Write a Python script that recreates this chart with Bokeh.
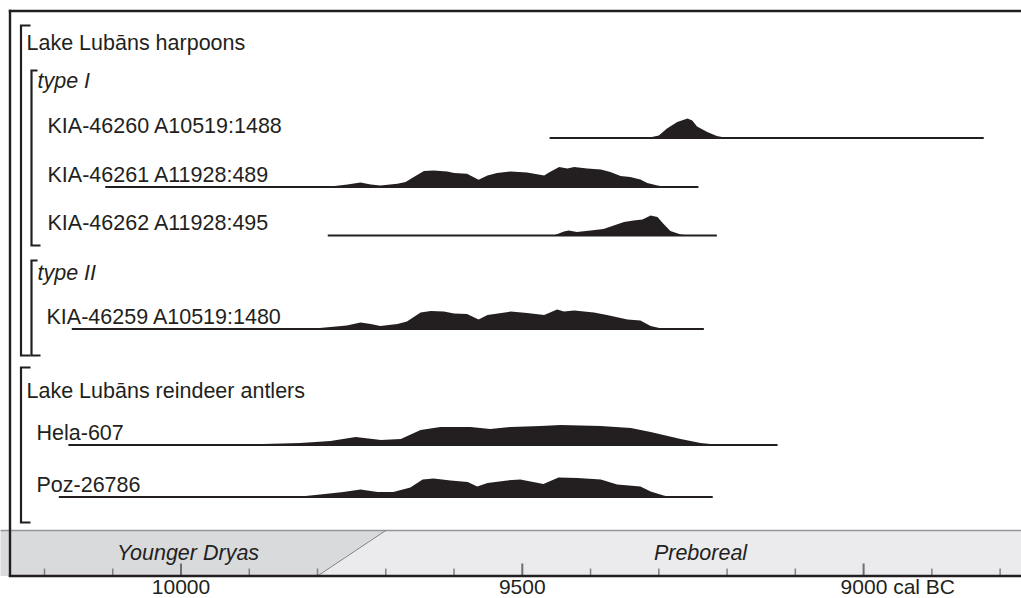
from bokeh.plotting import figure
from bokeh.models import Range1d
from bokeh.core.properties import value
from bokeh.embed import file_html
from bokeh.resources import INLINE

# ---------------- data ----------------
group_titles = ["Lake Lubāns harpoons", "Lake Lubāns reindeer antlers"]
subgroup_titles = ["type I", "type II"]
sample_labels = ["KIA-46260 A10519:1488", "KIA-46261 A11928:489", "KIA-46262 A11928:495",
                 "KIA-46259 A10519:1480", "Hela-607", "Poz-26786"]
# extent of each calibrated range (cal BC)
range_start = [9460, 10111, 9785, 10160, 10165, 10179]
range_end = [8824, 9242, 9215, 9234, 9126, 9221]

kia46260_years = [9317, 9300, 9288, 9273, 9258, 9251, 9244, 9229, 9215, 9200]
kia46260_prob = [0.0, 0.13, 0.47, 0.8, 0.97, 0.88, 0.58, 0.3, 0.1, 0.0]

kia46261_years = [9880, 9781, 9756, 9737, 9722, 9708, 9683, 9671, 9659, 9644, 9630, 9610, 9600, 9581,
                  9564, 9551, 9537, 9517, 9493, 9468, 9461, 9446, 9434, 9424, 9405, 9385, 9371, 9356,
                  9342, 9327, 9317, 9302, 9288]
kia46261_prob = [0.0, 0.02, 0.13, 0.23, 0.13, 0.08, 0.16, 0.25, 0.5, 0.8, 0.83, 0.78, 0.7, 0.66,
                 0.36, 0.58, 0.7, 0.78, 0.72, 0.58, 0.72, 1.0, 0.93, 1.0, 0.92, 0.88, 0.75, 0.55,
                 0.5, 0.38, 0.2, 0.07, 0.0]

kia46262_years = [9454, 9439, 9432, 9420, 9400, 9381, 9366, 9351, 9337, 9324, 9312, 9302, 9293,
                  9283, 9268, 9254]
kia46262_prob = [0.0, 0.2, 0.25, 0.17, 0.25, 0.33, 0.5, 0.67, 0.75, 0.8, 1.0, 0.92, 0.58,
                 0.22, 0.05, 0.0]

kia46259_years = [9880, 9805, 9757, 9737, 9722, 9708, 9683, 9669, 9649, 9634, 9615, 9600, 9581, 9564,
                  9551, 9517, 9493, 9468, 9449, 9439, 9424, 9395, 9376, 9346, 9327, 9312, 9293]
kia46259_prob = [0.0, 0.02, 0.17, 0.33, 0.25, 0.15, 0.25, 0.37, 0.83, 0.9, 0.87, 0.78, 0.75, 0.48,
                 0.7, 0.87, 0.8, 0.7, 0.98, 0.87, 0.92, 0.83, 0.7, 0.48, 0.42, 0.15, 0.0]

hela607_years = [9927, 9825, 9781, 9744, 9707, 9678, 9649, 9620, 9576, 9547, 9517, 9473, 9444,
                 9385, 9341, 9312, 9268, 9239, 9210]
hela607_prob = [0.0, 0.1, 0.2, 0.4, 0.25, 0.3, 0.75, 0.9, 0.9, 0.8, 0.9, 0.95, 1.0,
                0.95, 0.85, 0.65, 0.3, 0.1, 0.0]

poz26786_years = [9880, 9825, 9796, 9762, 9737, 9712, 9689, 9664, 9646, 9630, 9605, 9580, 9566, 9551,
                  9522, 9503, 9469, 9447, 9419, 9385, 9361, 9327, 9312, 9293, 9283]
poz26786_prob = [0.0, 0.02, 0.12, 0.25, 0.37, 0.25, 0.25, 0.48, 0.87, 0.92, 0.82, 0.75, 0.53, 0.7,
                 0.83, 0.87, 0.65, 0.98, 0.95, 0.87, 0.62, 0.53, 0.28, 0.07, 0.0]

sample_years = [kia46260_years, kia46261_years, kia46262_years, kia46259_years, hela607_years, poz26786_years]
sample_prob = [kia46260_prob, kia46261_prob, kia46262_prob, kia46259_prob, hela607_prob, poz26786_prob]

major_ticks = [10000, 9500, 9000]
minor_ticks = [10200, 10100, 9900, 9800, 9700, 9600, 9400, 9300, 9200, 9100, 8900, 8800]
tick_labels = ["10000", "9500", "9000 cal BC"]

period_names = ["Younger Dryas", "Preboreal"]
boundary_bottom = 9800
boundary_top = 9700

# ---------------- layout / style ----------------
INK = "#231f20"
FONT = "Liberation Sans"
FS = "21.5px"
TICK_FS = "21px"
TDY = -8  # text baseline correction (svg)
PX_PER_YEAR = 0.6826
X0_PX, X0_YEAR = 180.5, 10000  # picture px of 10000 cal BC

def yr(px):
    return X0_YEAR - (px - X0_PX) / PX_PER_YEAR

W, H = 1021, 598
OVER = W + 40  # lines run past the right canvas edge
x_range = Range1d(yr(0), yr(W))
y_range = Range1d(H, 0)  # picture-pixel-like vertical units, inverted

p = figure(width=W, height=H, x_range=x_range, y_range=y_range,
           output_backend="svg", toolbar_location=None,
           y_axis_location=None, x_axis_location=None,
           min_border_left=0, min_border_right=0, min_border_top=0, min_border_bottom=0,
           outline_line_color=None)
p.extra_x_ranges = {"px": Range1d(0, W)}
p.grid.visible = False
p.background_fill_color = "white"
p.border_fill_color = "white"

def txt(x, y, t, italic=False, align="left", rng="px", x_offset=0, size=FS):
    p.text(x=x, y=[v + TDY for v in y], text=t, x_range_name=rng,
           text_font=value(FONT), text_font_size=value(size),
           text_font_style="italic" if italic else "normal",
           text_align=align, text_baseline="alphabetic", text_color=INK, x_offset=x_offset)

# period band
band_top, band_bot = 530, 575.5
p.patch([yr(-40), boundary_bottom, boundary_top, yr(-40)],
        [band_bot, band_bot, band_top, band_top], fill_color="#d9dadc", line_color=None)
p.patch([boundary_bottom, yr(OVER), yr(OVER), boundary_top],
        [band_bot, band_bot, band_top, band_top], fill_color="#ebebed", line_color=None)
p.segment(x0=[yr(-40)], y0=[band_top], x1=[yr(OVER)], y1=[band_top], line_color="#939598", line_width=1.5)
p.segment(x0=[boundary_bottom], y0=[band_bot], x1=[boundary_top], y1=[band_top],
          line_color="#808285", line_width=1)
txt([187.5, 700], [560, 560], period_names, italic=True, align="center")

# axis: ticks and labels
p.segment(x0=minor_ticks, y0=[575] * len(minor_ticks), x1=minor_ticks, y1=[568] * len(minor_ticks),
          line_color="#808285", line_width=1.5)
p.segment(x0=major_ticks, y0=[575] * len(major_ticks), x1=major_ticks, y1=[563] * len(major_ticks),
          line_color="#6d6e71", line_width=2)
txt(major_ticks[:2], [594, 594], tick_labels[:2], align="center", rng="default", size=TICK_FS)
txt(major_ticks[2:], [594], tick_labels[2:], align="left", rng="default", x_offset=-23, size=TICK_FS)

# frame: top edge, left edge and axis line as separate segments
p.segment(x0=[8.3, 9.5, 8.3], y0=[10.5, 9.3, band_bot], x1=[OVER, 9.5, OVER], y1=[10.5, band_bot + 1.1, band_bot],
          x_range_name="px", line_color=INK, line_width=2.4)

# brackets
br_xs = [[30, 20.5, 20.5, 30], [37, 31, 31, 40], [37, 31, 31, 40], [30, 20.5, 20.5, 30]]
br_ys = [[25, 25, 355, 355], [70, 70, 245, 245], [260, 260, 355, 355], [367, 367, 522, 522]]
p.multi_line(br_xs, br_ys, x_range_name="px", line_color=INK, line_width=2.2, line_join="miter")

# headings
txt([26, 26], [50, 398], group_titles)
txt([37, 37], [88, 280], subgroup_titles, italic=True)

# samples
row_base = [137.5, 186.5, 235, 328.5, 444.5, 496.5]
label_x = [47, 47, 47, 46, 36, 36]
HSCALE = 20
for i in range(len(sample_labels)):
    base = row_base[i]
    txt([label_x[i]], [base - 4.5], [sample_labels[i]])
    ys = sample_years[i]
    pr = sample_prob[i]
    p.varea(x=ys, y1=[base] * len(ys), y2=[base - v * HSCALE for v in pr], fill_color=INK)
    p.line([range_start[i], range_end[i]], [base, base], line_color=INK, line_width=1.8)

open("out.html", "w").write(file_html(p, INLINE))
